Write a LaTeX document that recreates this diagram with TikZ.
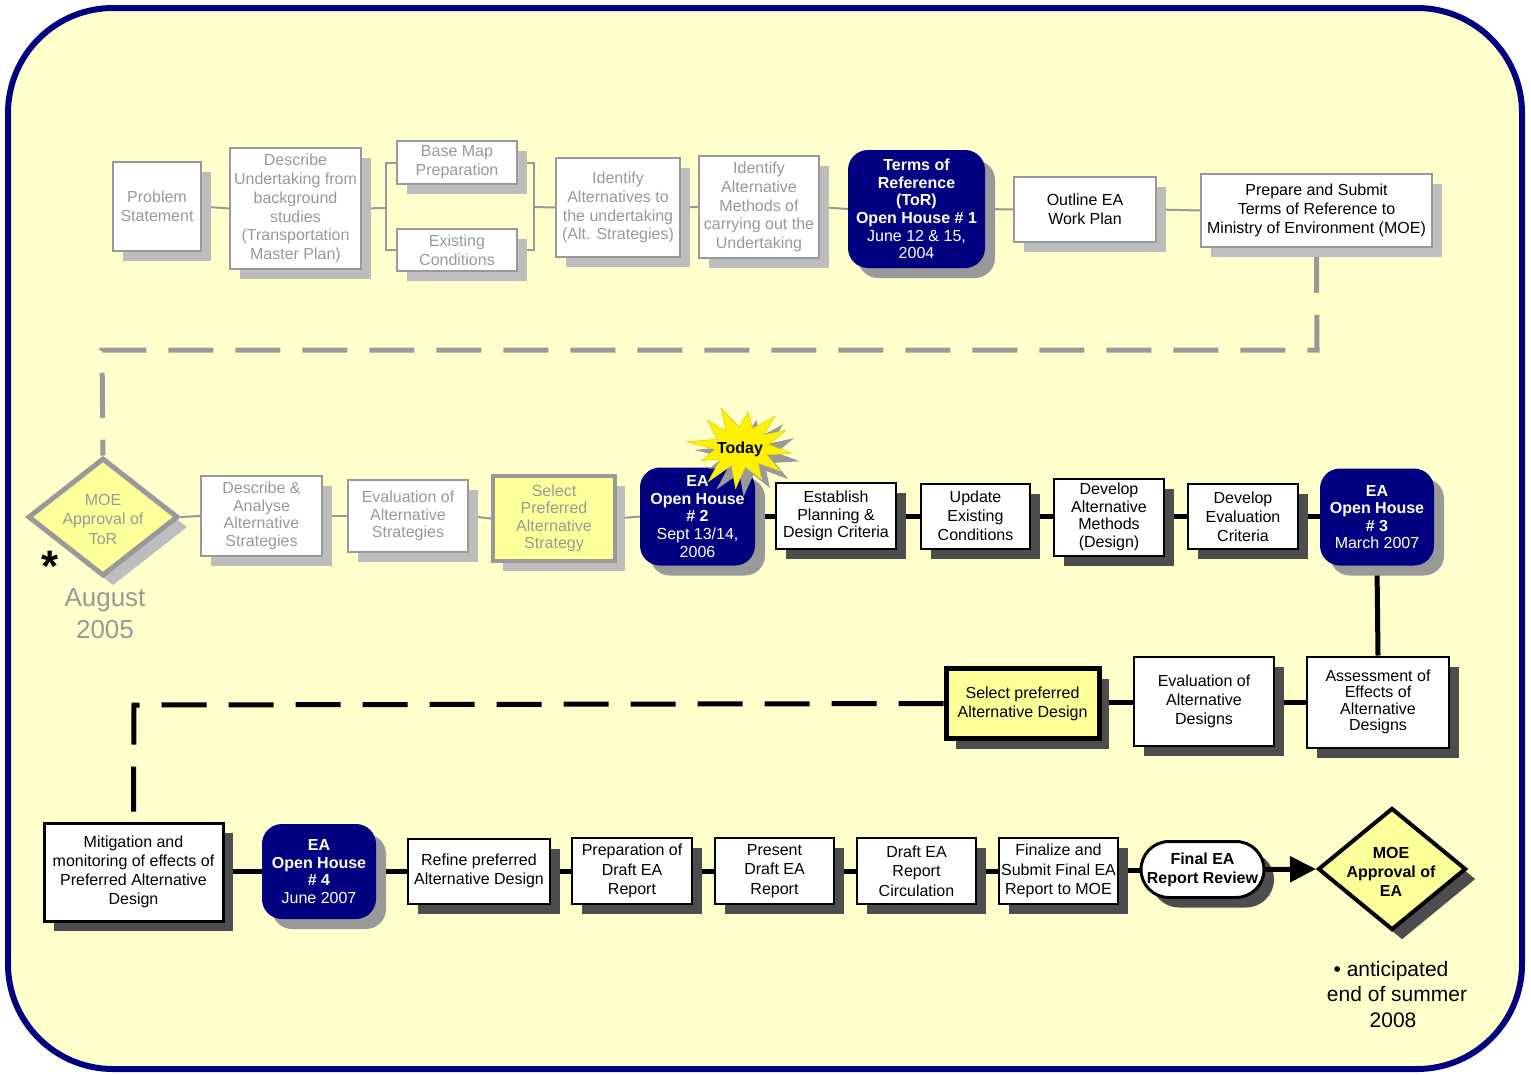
\documentclass[tikz,border=0pt]{standalone}
\usepackage{fontspec}
\setmainfont{Liberation Sans}
\usetikzlibrary{shapes.geometric,shadows,arrows.meta}
\definecolor{navy}{HTML}{000080}
\definecolor{bgy}{HTML}{FFFFCC}
\definecolor{yel}{HTML}{FFFF99}
\definecolor{fg}{HTML}{999999}
\definecolor{fsh}{HTML}{BDBDBD}
\definecolor{dsh}{HTML}{4D4D4D}
\definecolor{osh}{HTML}{999999}
\pgfdeclarelayer{bglayer}
\pgfdeclarelayer{connlayer}
\pgfsetlayers{bglayer,connlayer,main}
\newcommand{\mystarpath}{plot[samples at={0,1,...,23}] ({(mod(\x,2)==0 ? 50*(1+0.12*sin(\x*97)) : 27)*cos(\x*15+8)}, {(mod(\x,2)==0 ? 40*(1+0.12*cos(\x*131)) : 20)*sin(\x*15+8)}) -- cycle}
\begin{document}
\begin{tikzpicture}[x=1pt,y=-1pt,
 base/.style={align=center, inner sep=0pt, font=\fontsize{16}{18.8}\selectfont},
 fs/.style={font=\fontsize{16}{#1}\selectfont},
 sz/.style 2 args={minimum width=#1pt, minimum height=#2pt},
 fshadow/.style={drop shadow={fill=fsh, opacity=1, shadow xshift=10pt, shadow yshift=-10pt}},
 dshadow/.style={drop shadow={fill=dsh, opacity=1, shadow xshift=10pt, shadow yshift=-10pt}},
 oshadow/.style={drop shadow={fill=osh, opacity=1, shadow xshift=10pt, shadow yshift=-10pt}},
 fbox/.style={base, rectangle, draw=fg, line width=1.5pt, fill=white, text=fg, fshadow},
 gbox/.style={base, rectangle, draw=fg, line width=1.5pt, fill=white, text=black, fshadow},
 kbox/.style={base, rectangle, draw=black, line width=2pt, fill=white, text=black, dshadow},
 ohbox/.style={base, rectangle, rounded corners=20pt, fill=navy, text=white, oshadow, font=\fontsize{16}{17.6}\selectfont},
 fconn/.style={draw=fg, line width=2pt},
 kconn/.style={draw=black, line width=5pt},
 fdash/.style={draw=fg, line width=5pt, dash pattern=on 45pt off 22pt},
 kdash/.style={draw=black, line width=5pt, dash pattern=on 45pt off 22pt},
 lbl/.style={align=center, inner sep=0pt},
]
\useasboundingbox (0,0) rectangle (1531,1074);
\begin{pgfonlayer}{bglayer}
\fill[white] (0,0) rectangle (1531,1074);
\draw[navy, line width=6pt, fill=bgy, rounded corners=105pt] (8,8) rectangle (1522,1069);
\end{pgfonlayer}

\coordinate (d1) at (1317,350);
\coordinate (d2) at (102,350);
\coordinate (d3) at (134,705);
\coordinate (b1) at (386,208);
\coordinate (b2) at (534,207);

% ---------- Row 1 ----------
\node[fbox, sz={88}{89}] (ps) at (157,206.5) {Problem\\Statement};
\node[fbox, sz={131}{121}] (du) at (295.5,208.5) {Describe\\Undertaking from\\background\\studies\\(Transportation\\Master Plan)};
\node[fbox, sz={120}{43}] (bm) at (457,162.5) {Base Map\\Preparation};
\node[fbox, sz={120}{42}] (ec) at (457,250) {Existing\\Conditions};
\node[fbox, sz={124}{99}] (ia) at (618,207.5) {Identify\\Alternatives to\\the undertaking\\(Alt. Strategies)};
\node[fbox, sz={120}{102}] (im) at (759,207) {Identify\\Alternative\\Methods of\\carrying out the\\Undertaking};
\node[ohbox, sz={137}{118}] (tor) at (916.5,209) {\textbf{Terms of}\\\textbf{Reference}\\\textbf{(ToR)}\\\textbf{Open House \# 1}\\June 12 \& 15,\\2004};
\node[gbox, sz={142}{65}] (ow) at (1085,209.5) {Outline EA\\Work Plan};
\node[gbox, sz={231}{73}] (pm) at (1316.5,210.5) {Prepare and Submit\\Terms of Reference to\\Ministry of Environment (MOE)};

% ---------- Row 2 ----------
\node[diamond, draw=fg, line width=5pt, fill=yel, sz={150}{118}, inner sep=0pt, fshadow] (moe1) at (103,517) {};
\node[lbl, text=fg, font=\fontsize{16}{19.5}\selectfont] (moe1t) at (103,519) {MOE\\Approval of\\ToR};
\node[inner sep=0pt, font=\fontsize{44}{44}\selectfont\bfseries] (ast) at (50,566) {*};
\node[lbl, text=fg, font=\fontsize{26}{32}\selectfont] (aug) at (105,614) {August\\2005};

\node[fbox, fs=17.5, sz={121}{80}] (da) at (261.5,516) {Describe \&\\Analyse\\Alternative\\Strategies};
\node[fbox, fs=17.5, sz={120}{72}] (es) at (408,516) {Evaluation of\\Alternative\\Strategies};
\node[fbox, fs=17.5, fill=yel, line width=4pt, sz={122}{85}] (sp) at (554,518.5) {Select\\Preferred\\Alternative\\Strategy};
\node[ohbox, sz={115}{98}] (oh2) at (697.5,516.5) {};
% Today starburst
\fill[osh, shift={(750,455)}] \mystarpath;
\filldraw[yellow, draw=yellow!85!black, line width=0.6pt, shift={(742,447)}] \mystarpath;
\node[lbl, font=\fontsize{16}{16}\selectfont\bfseries] (today) at (740,449) {Today};
\node[lbl, text=white, font=\fontsize{16}{17.6}\selectfont] (oh2t) at (oh2) {\textbf{EA}\\\textbf{Open House}\\\textbf{\# 2}\\Sept 13/14,\\2006};

\node[kbox, fs=17.5, sz={120}{66}] (epd) at (836,516) {Establish\\Planning \&\\Design Criteria};
\node[kbox, fs=19, sz={109}{65}] (uec) at (975.5,516) {Update\\Existing\\Conditions};
\node[kbox, fs=17.5, sz={110}{77}] (dam) at (1109,517) {Develop\\Alternative\\Methods\\(Design)};
\node[kbox, fs=19, sz={110}{65}] (dec) at (1243,516.5) {Develop\\Evaluation\\Criteria};
\node[ohbox, sz={114}{97}] (oh3) at (1377,517) {\textbf{EA}\\\textbf{Open House}\\\textbf{\# 3}\\March 2007};

% ---------- Row 3 ----------
\node[kbox, fs=16.3, sz={142}{91}] (aea) at (1378,702) {Assessment of\\Effects of\\Alternative\\Designs};
\node[kbox, fs=19, sz={140}{89}] (ead) at (1204,701.5) {Evaluation of\\Alternative\\Designs};
\node[kbox, fill=yel, line width=5pt, sz={153}{70}] (spd) at (1022.5,703.5) {Select preferred\\Alternative Design};

% ---------- Row 4 ----------
\node[kbox, line width=3pt, sz={179}{98}] (mit) at (133.5,872) {Mitigation and\\monitoring of effects of\\Preferred Alternative\\Design};
\node[ohbox, sz={114}{95}] (oh4) at (319,871.5) {\textbf{EA}\\\textbf{Open House}\\\textbf{\# 4}\\June 2007};
\node[kbox, sz={142}{65}] (rpd) at (479,871) {Refine preferred\\Alternative Design};
\node[kbox, fs=19.5, sz={120}{66}] (pde) at (632,871) {Preparation of\\Draft EA\\Report};
\node[kbox, fs=19.5, sz={119}{66}] (pdr) at (774.5,871) {Present\\Draft EA\\Report};
\node[kbox, fs=19.5, sz={119}{66}] (drc) at (916.5,871) {Draft EA\\Report\\Circulation};
\node[kbox, fs=19.5, sz={119}{66}] (fsr) at (1058.5,871) {Finalize and\\Submit Final EA\\Report to MOE};
\node[kbox, line width=3pt, rounded corners=28pt, sz={123}{56}, font=\fontsize{16}{19}\selectfont\bfseries] (fer) at (1202.5,869.5) {Final EA\\Report Review};
\node[diamond, draw=black, line width=4pt, fill=yel, sz={148}{122}, inner sep=0pt, dshadow] (moe2) at (1392,869) {};
\node[lbl, font=\fontsize{16}{19}\selectfont\bfseries] (moe2t) at (1391,872) {MOE\\Approval of\\EA};
\node[lbl, font=\fontsize{21}{25.5}\selectfont] (ant) at (1397,994) {\textbullet\ anticipated\hspace*{12pt}\\end of summer\\2008\hspace*{8pt}};

% ---------- connectors ----------
\begin{pgfonlayer}{connlayer}
\draw[fconn] (ps.east) -- (du.west);
\draw[fconn] (du.east) -- (b1);
\draw[fconn] (b1) |- (bm.west);
\draw[fconn] (b1) |- (ec.west);
\draw[fconn] (bm.east) -| (b2);
\draw[fconn] (ec.east) -| (b2);
\draw[fconn] (b2) -- (ia.west);
\draw[fconn] (ia.east) -- (im.west);
\draw[fconn] (im.east) -- (tor.west);
\draw[fconn] (tor.east) -- (ow.west);
\draw[fconn] (ow.east) -- (pm.west);
\draw[fdash] (pm.south) -- (d1) -- (d2) -- (moe1.north);
\draw[fconn] (moe1.east) -- (da.west);
\draw[fconn] (da.east) -- (es.west);
\draw[fconn] (es.east) -- (sp.west);
\draw[fconn] (sp.east) -- (oh2.west);
\draw[kconn] (oh2.east |- 0,516) -- (epd.west |- 0,516);
\draw[kconn] (epd.east |- 0,516) -- (uec.west |- 0,516);
\draw[kconn] (uec.east |- 0,516) -- (dam.west |- 0,516);
\draw[kconn] (dam.east |- 0,516) -- (dec.west |- 0,516);
\draw[kconn] (dec.east |- 0,516) -- (oh3.west |- 0,516);
\draw[kconn] (oh3.south) -- (aea.north);
\draw[kconn] (aea.west |- 0,702) -- (ead.east |- 0,702);
\draw[kconn] (ead.west |- 0,702) -- (spd.east |- 0,702);
\draw[kdash] (spd.west) -- (d3) -- (mit.north);
\draw[kconn] (mit.east |- 0,871) -- (oh4.west |- 0,871);
\draw[kconn] (oh4.east |- 0,871) -- (rpd.west |- 0,871);
\draw[kconn] (rpd.east |- 0,871) -- (pde.west |- 0,871);
\draw[kconn] (pde.east) -- (pdr.west);
\draw[kconn] (pdr.east) -- (drc.west);
\draw[kconn] (drc.east) -- (fsr.west);
\draw[kconn] (fsr.east |- 0,870) -- (fer.west |- 0,870);
\end{pgfonlayer}
\draw[kconn, -{Triangle[length=26pt, width=25pt]}] (fer.east) -- (moe2.west);
\end{tikzpicture}
\end{document}
